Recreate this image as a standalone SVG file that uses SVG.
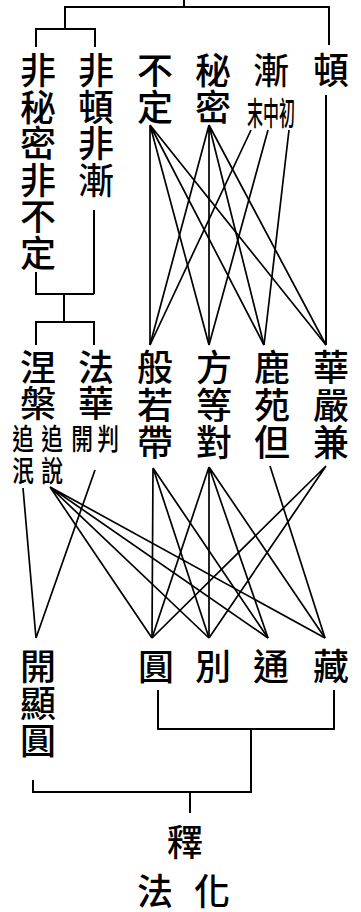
<svg xmlns="http://www.w3.org/2000/svg" width="361" height="912" viewBox="0 0 361 912">
<style>
text{font-family:"Noto Sans CJK TC","Noto Sans CJK JP",sans-serif;fill:#000;text-anchor:middle;font-weight:500}
.b{font-size:36px}
.s{font-size:29px}
.t{font-size:32px}
.c path{fill:none;stroke:#000;stroke-width:2}
.c .d{stroke-width:1.7}
</style>
<rect width="361" height="912" fill="#fff"/>
<g class="c" id="connectors">
<path d="M184,0V7M65,29V7H329V45M36,47V29H95V47"/>
<path d="M94,210V294M36,272V294H94M64,294V322M36,345V322H94V345"/>
<path d="M326,95V345"/>
<path class="d" d="M150,125L150,345M150,125L209,345M150,125L264,345M150,125L326,345"/>
<path class="d" d="M209,125L150,345M209,125L209,345M209,125L264,345M209,125L326,345"/>
<path class="d" d="M251,130L150,345M268,130L209,345M289,130L264,345"/>
<path class="d" d="M23,488L36,638M95,470L36,638"/>
<path class="d" d="M50,487L152,638M50,487L209,638M50,487L268,638M50,487L325,638"/>
<path class="d" d="M153,468L152,638M153,468L209,638M153,468L268,638"/>
<path class="d" d="M209,467L152,638M209,467L209,638M209,467L268,638M209,467L325,638"/>
<path class="d" d="M270,466L325,638M326,466L152,638M326,466L209,638"/>
<path d="M158,690V729H334V690M251,729V792M33,780V792H252M190,792V813"/>
</g>
<g id="n-fei-mimi"><text class="b"><tspan x="38" y="84">非</tspan><tspan x="38" y="120.5">秘</tspan><tspan x="38" y="157">密</tspan><tspan x="38" y="193.5">非</tspan><tspan x="38" y="230">不</tspan><tspan x="38" y="266.5">定</tspan></text></g>
<g id="n-fei-dun"><text class="b"><tspan x="96" y="84">非</tspan><tspan x="96" y="120.5">頓</tspan><tspan x="96" y="157">非</tspan><tspan x="96" y="193.5">漸</tspan></text></g>
<g id="n-buding"><text class="b"><tspan x="155" y="84">不</tspan><tspan x="155" y="120.5">定</tspan></text></g>
<g id="n-mimi"><text class="b"><tspan x="213" y="84">秘</tspan><tspan x="213" y="120.5">密</tspan></text></g>
<g id="n-jian"><text class="b" x="271" y="84">漸</text><text class="t" transform="translate(271,125) scale(0.5,1)">末中初</text></g>
<g id="n-dun"><text class="b" x="331" y="84">頓</text></g>
<g id="n-niepan"><text class="b"><tspan x="38" y="381">涅</tspan><tspan x="38" y="417">槃</tspan></text>
<text class="s" transform="translate(23,450) scale(0.75,1)"><tspan x="0" y="0">追</tspan><tspan x="0" y="32">泯</tspan></text>
<text class="s" transform="translate(52,450) scale(0.75,1)"><tspan x="0" y="0">追</tspan><tspan x="0" y="32">說</tspan></text></g>
<g id="n-fahua"><text class="b"><tspan x="96" y="381">法</tspan><tspan x="96" y="417">華</tspan></text>
<text class="s" transform="translate(82,450) scale(0.75,1)">開</text>
<text class="s" transform="translate(108,450) scale(0.75,1)">判</text></g>
<g id="n-bore"><text class="b"><tspan x="155" y="381">般</tspan><tspan x="155" y="418.5">若</tspan><tspan x="155" y="456">帶</tspan></text></g>
<g id="n-fangdeng"><text class="b"><tspan x="214" y="381">方</tspan><tspan x="214" y="418.5">等</tspan><tspan x="214" y="456">對</tspan></text></g>
<g id="n-luyuan"><text class="b"><tspan x="272" y="381">鹿</tspan><tspan x="272" y="418.5">苑</tspan><tspan x="272" y="456">但</tspan></text></g>
<g id="n-huayan"><text class="b"><tspan x="331" y="381">華</tspan><tspan x="331" y="418.5">嚴</tspan><tspan x="331" y="456">兼</tspan></text></g>
<g id="n-kaixian"><text class="b"><tspan x="38" y="680">開</tspan><tspan x="38" y="716.5">顯</tspan><tspan x="38" y="754">圓</tspan></text></g>
<g id="n-yuan"><text class="b" x="156" y="680">圓</text></g>
<g id="n-bie"><text class="b" x="213" y="680">別</text></g>
<g id="n-tong"><text class="b" x="271" y="680">通</text></g>
<g id="n-zang"><text class="b" x="331" y="680">藏</text></g>
<g id="n-shi"><text class="b" x="185" y="856">釋</text></g>
<g id="n-fahua2"><text class="b"><tspan x="155" y="905">法</tspan><tspan x="212" y="905">化</tspan></text></g>
</svg>
